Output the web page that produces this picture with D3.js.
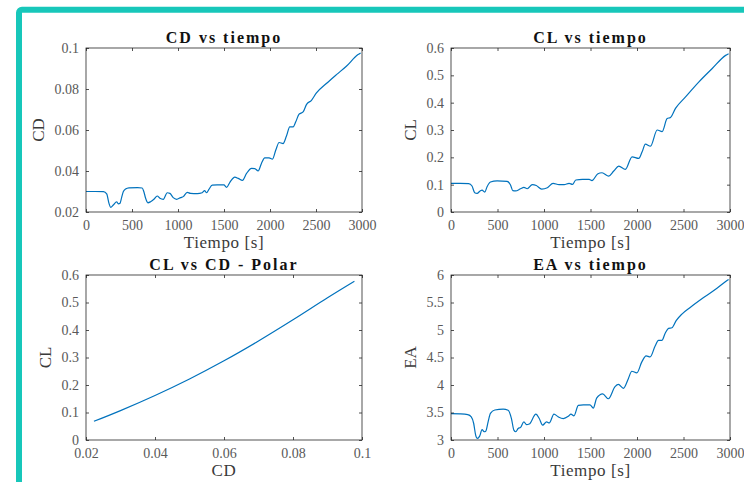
<!DOCTYPE html>
<html>
<head>
<meta charset="utf-8">
<script src="https://cdn.jsdelivr.net/npm/d3@7"></script>
<style>
  html, body { margin: 0; padding: 0; background: #ffffff; }
  svg { display: block; }
</style>
</head>
<body>
<svg id="chart" width="744" height="482"></svg>
<script>
// ---------- DATA ----------
const timeTicks = [0, 500, 1000, 1500, 2000, 2500, 3000];
const timeTickLabels = ["0", "500", "1000", "1500", "2000", "2500", "3000"];
const cdTicks = [0.02, 0.04, 0.06, 0.08, 0.1];
const cdTickLabels = ["0.02", "0.04", "0.06", "0.08", "0.1"];
const clTicks = [0, 0.1, 0.2, 0.3, 0.4, 0.5, 0.6];
const clTickLabels = ["0", "0.1", "0.2", "0.3", "0.4", "0.5", "0.6"];
const eaTicks = [3, 3.5, 4, 4.5, 5, 5.5, 6];
const eaTickLabels = ["3", "3.5", "4", "4.5", "5", "5.5", "6"];

const titles = ["CD vs tiempo", "CL vs tiempo", "CL vs CD - Polar", "EA vs tiempo"];

const timeCD = [0, 100, 190, 225, 250, 268, 297, 333, 351, 369, 387, 405, 430, 467, 560, 611, 629, 648, 673, 702,
  738, 774, 803, 840, 883, 912, 948, 985, 1028, 1057, 1100, 1136, 1209, 1263, 1289, 1311, 1336, 1372, 1426, 1499,
  1528, 1564, 1618, 1654, 1701, 1745, 1799, 1835, 1871, 1907, 1943, 1990, 2027, 2063, 2099, 2142, 2179, 2215, 2251,
  2280, 2316, 2360, 2396, 2451, 2505, 2613, 2722, 2830, 2957, 2985];
const valuesCD = [0.0300, 0.0300, 0.0299, 0.0288, 0.0242, 0.0223, 0.0234, 0.0250, 0.0240, 0.0242, 0.0270, 0.0299,
  0.0312, 0.0318, 0.0319, 0.0317, 0.0299, 0.0267, 0.0245, 0.0250, 0.0262, 0.0278, 0.0267, 0.0262, 0.0294, 0.0291,
  0.0270, 0.0262, 0.0270, 0.0275, 0.0296, 0.0291, 0.0290, 0.0294, 0.0304, 0.0294, 0.0310, 0.0331, 0.0332, 0.0332,
  0.0320, 0.0345, 0.0370, 0.0364, 0.0354, 0.0388, 0.0413, 0.0412, 0.0400, 0.0437, 0.0464, 0.0464, 0.0458, 0.0502,
  0.0539, 0.0534, 0.0571, 0.0615, 0.0615, 0.0640, 0.0677, 0.0688, 0.0724, 0.0745, 0.0781, 0.0827, 0.0870, 0.0911,
  0.0968, 0.0976];

const timeCL = [0, 100, 190, 226, 255, 280, 316, 334, 363, 388, 424, 496, 604, 640, 665, 694, 748, 784, 820, 874,
  917, 975, 1036, 1097, 1162, 1216, 1270, 1306, 1342, 1414, 1486, 1516, 1576, 1624, 1696, 1750, 1804, 1875, 1947,
  2019, 2055, 2090, 2145, 2217, 2270, 2324, 2360, 2414, 2522, 2666, 2809, 2953, 2985];
const valuesCL = [0.105, 0.105, 0.104, 0.095, 0.0705, 0.068, 0.078, 0.080, 0.073, 0.0925, 0.1096, 0.114, 0.112,
  0.099, 0.078, 0.077, 0.085, 0.090, 0.085, 0.100, 0.097, 0.084, 0.089, 0.105, 0.100, 0.100, 0.105, 0.101, 0.117,
  0.119, 0.119, 0.115, 0.139, 0.1436, 0.1315, 0.150, 0.168, 0.156, 0.202, 0.196, 0.220, 0.248, 0.241, 0.300, 0.294,
  0.342, 0.346, 0.379, 0.421, 0.476, 0.525, 0.573, 0.579];

const polarCD = [0.0223, 0.030, 0.040, 0.050, 0.060, 0.070, 0.080, 0.090, 0.0978];
const polarCL = [0.068, 0.107, 0.162, 0.222, 0.288, 0.360, 0.437, 0.517, 0.577];

const timeEA = [0, 100, 180, 218, 244, 265, 283, 308, 334, 356, 374, 399, 424, 471, 561, 614, 650, 676, 697, 722,
  748, 784, 812, 841, 913, 949, 985, 1028, 1057, 1107, 1154, 1208, 1261, 1290, 1322, 1369, 1423, 1494, 1530, 1566,
  1631, 1692, 1764, 1800, 1854, 1908, 1944, 1998, 2052, 2098, 2141, 2195, 2231, 2267, 2303, 2339, 2375, 2421, 2483,
  2572, 2716, 2860, 2968, 2985];
const valuesEA = [3.48, 3.475, 3.46, 3.42, 3.30, 3.09, 3.03, 3.07, 3.19, 3.15, 3.16, 3.33, 3.485, 3.545, 3.56, 3.54,
  3.39, 3.18, 3.15, 3.21, 3.23, 3.33, 3.28, 3.29, 3.47, 3.39, 3.27, 3.33, 3.31, 3.47, 3.42, 3.39, 3.43, 3.47, 3.44,
  3.63, 3.64, 3.64, 3.58, 3.76, 3.84, 3.75, 3.97, 4.01, 3.94, 4.12, 4.25, 4.22, 4.42, 4.53, 4.51, 4.71, 4.81, 4.81,
  4.94, 5.03, 5.04, 5.17, 5.29, 5.41, 5.59, 5.76, 5.90, 5.92];

// ---------- DRAWING ----------
const svg = d3.select("#chart");
const FONT = "'Liberation Serif', 'Times New Roman', serif";
const LINE = "#0072bd";

// teal frame
svg.append("rect")
  .attr("x", 19).attr("y", 9.7)
  .attr("width", 900).attr("height", 700)
  .attr("rx", 3)
  .attr("fill", "none")
  .attr("stroke", "#17c7ba")
  .attr("stroke-width", 6);

const panels = [
  { box: [86, 48, 362, 212], xDom: [0, 3000], yDom: [0.02, 0.1], xT: timeTicks, xL: timeTickLabels,
    yT: cdTicks, yL: cdTickLabels, xs: timeCD, ys: valuesCD, title: titles[0], xLab: "Tiempo [s]", yLab: "CD", yLabX: 38 },
  { box: [451, 48, 730, 212], xDom: [0, 3000], yDom: [0, 0.6], xT: timeTicks, xL: timeTickLabels,
    yT: clTicks, yL: clTickLabels, xs: timeCL, ys: valuesCL, title: titles[1], xLab: "Tiempo [s]", yLab: "CL", yLabX: 410 },
  { box: [86, 275, 362, 440], xDom: [0.02, 0.1], yDom: [0, 0.6], xT: cdTicks, xL: cdTickLabels,
    yT: clTicks, yL: clTickLabels, xs: polarCD, ys: polarCL, title: titles[2], xLab: "CD", yLab: "CL", yLabX: 45 },
  { box: [451, 275, 730, 440], xDom: [0, 3000], yDom: [3, 6], xT: timeTicks, xL: timeTickLabels,
    yT: eaTicks, yL: eaTickLabels, xs: timeEA, ys: valuesEA, title: titles[3], xLab: "Tiempo [s]", yLab: "EA", yLabX: 410 }
];

panels.forEach((p, idx) => {
  const [x0, y0, x1, y1] = p.box;
  const x = d3.scaleLinear().domain(p.xDom).range([x0, x1]);
  const y = d3.scaleLinear().domain(p.yDom).range([y1, y0]);
  const g = svg.append("g");

  // line
  const pts = p.xs.map((v, i) => [v, p.ys[i]]);
  g.append("path")
    .datum(pts)
    .attr("fill", "none")
    .attr("stroke", LINE)
    .attr("stroke-width", 1.2)
    .attr("stroke-linejoin", "round")
    .attr("d", d3.line().x(d => x(d[0])).y(d => y(d[1]))
      .curve(idx === 2 ? d3.curveCatmullRom : d3.curveMonotoneX));

  const styleAxis = sel => {
    sel.select(".domain").remove();
    sel.selectAll(".tick line").attr("stroke", "#262626").attr("stroke-width", 0.8);
    sel.selectAll("text").attr("font-family", FONT).attr("font-size", 14).attr("fill", "#595959");
  };

  // bottom
  const gb = g.append("g").attr("transform", `translate(0,${y1})`)
    .call(d3.axisBottom(x).tickValues(p.xT).tickFormat((d, i) => p.xL[i]).tickSizeInner(-3).tickSizeOuter(0));
  styleAxis(gb);
  gb.selectAll("text").attr("y", 8).attr("dy", "0.71em");
  // top (mirror ticks)
  const gt = g.append("g").attr("transform", `translate(0,${y0})`)
    .call(d3.axisTop(x).tickValues(p.xT).tickFormat("").tickSizeInner(-3).tickSizeOuter(0));
  styleAxis(gt);
  // left
  const gl = g.append("g").attr("transform", `translate(${x0},0)`)
    .call(d3.axisLeft(y).tickValues(p.yT).tickFormat((d, i) => p.yL[i]).tickSizeInner(-3).tickSizeOuter(0));
  styleAxis(gl);
  gl.selectAll("text").attr("x", -7);
  // right (mirror ticks)
  const gr = g.append("g").attr("transform", `translate(${x1},0)`)
    .call(d3.axisRight(y).tickValues(p.yT).tickFormat("").tickSizeInner(-3).tickSizeOuter(0));
  styleAxis(gr);

  // box
  g.append("rect")
    .attr("x", x0).attr("y", y0).attr("width", x1 - x0).attr("height", y1 - y0)
    .attr("fill", "none").attr("stroke", "#262626").attr("stroke-width", 0.8);

  // title
  g.append("text")
    .attr("x", (x0 + x1) / 2).attr("y", y0 - 5)
    .attr("text-anchor", "middle")
    .attr("font-family", FONT).attr("font-weight", "bold")
    .attr("font-size", 16).attr("letter-spacing", "2px")
    .attr("fill", "#111")
    .text(p.title);

  // x label
  g.append("text")
    .attr("x", (x0 + x1) / 2).attr("y", y1 + 36)
    .attr("text-anchor", "middle")
    .attr("font-family", FONT).attr("font-size", 17).attr("letter-spacing", "0.6px")
    .attr("fill", "#3a3a3a")
    .text(p.xLab);

  // y label
  g.append("text")
    .attr("transform", `translate(${p.yLabX},${(y0 + y1) / 2}) rotate(-90)`)
    .attr("text-anchor", "middle")
    .attr("dy", "0.35em")
    .attr("font-family", FONT).attr("font-size", 17)
    .attr("fill", "#3a3a3a")
    .text(p.yLab);
});
</script>
</body>
</html>
